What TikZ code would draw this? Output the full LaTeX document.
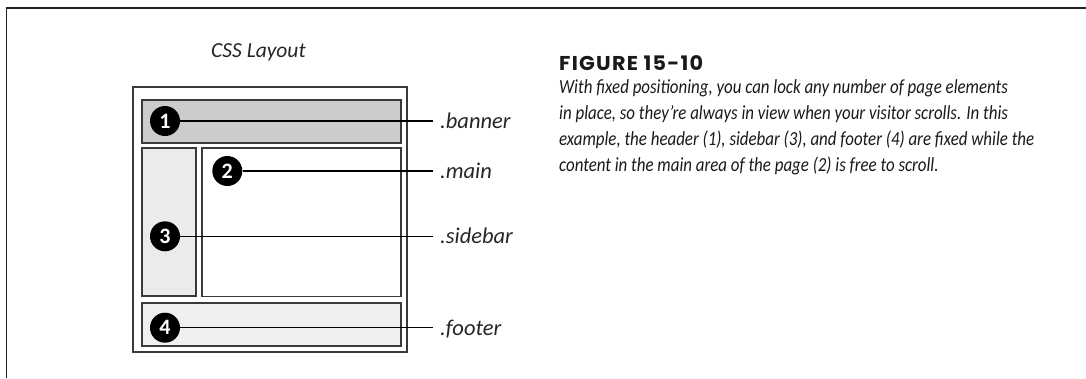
\documentclass[tikz,border=0pt]{standalone}
\usepackage{fontspec}
\setmainfont{Carlito}
\newfontfamily\figfont{Poppins}[LetterSpace=6]
\definecolor{framecol}{HTML}{222222}
\definecolor{boxline}{HTML}{3A3A3A}
\definecolor{bannerfill}{HTML}{CCCCCC}
\definecolor{sidefill}{HTML}{EBEBEB}
\definecolor{footfill}{HTML}{EFEFEF}
\newlength\capw
\newlength\figw
\tikzset{
  frameline/.style={draw=framecol, line width=1.8pt},
  boxrect/.style={draw=boxline, line width=1.6pt},
  numdot/.style={circle, fill=black, inner sep=0pt, minimum size=30pt, text=white, font=\fontsize{22}{22}\selectfont\bfseries},
  leader/.style={draw=black, line width=1.3pt},
  tag/.style={anchor=base west, inner sep=0pt, font=\fontsize{22.5}{26}\selectfont\itshape, text=black!85},
  capline/.style={anchor=base west, inner sep=0pt, text=black!90},
  capfont/.style={font=\fontsize{20}{24}\selectfont\itshape},
}
\begin{document}%
\settowidth\capw{\fontsize{20}{24}\selectfont\itshape example, the header (1), sidebar (3), and footer (4) are fixed while the}%
\pgfmathsetmacro\capscale{475/\capw}%
\settowidth\figw{\figfont\fontsize{20}{20}\selectfont\bfseries FIGURE 15-10}%
\pgfmathsetmacro\figscale{144/\figw}%
\begin{tikzpicture}[x=1pt,y=-1pt]
\useasboundingbox (0,0) rectangle (1086,378);
% page frame
\draw[frameline] (6.5,378) -- (6.5,8.3) -- (1086,8.3);
% title
\node[inner sep=0pt, font=\fontsize{21.5}{24}\selectfont\itshape, text=black!85] (title) at (258.5,52.5) {CSS Layout};
% layout boxes
\draw[boxrect] (132.7,87) rectangle (406.7,352);
\draw[boxrect, fill=bannerfill] (141.7,100) rectangle (400.7,142.7);
\draw[boxrect, fill=sidefill] (141.7,148) rectangle (196,296);
\draw[boxrect, fill=white] (201.7,148) rectangle (400.7,296.5);
\draw[boxrect, fill=footfill] (141.7,303) rectangle (400.7,345.7);
% numbered dots
\node[numdot] (n1) at (165,121) {1};
\node[numdot] (n2) at (227.3,171) {2};
\node[numdot] (n3) at (165,236.3) {3};
\node[numdot] (n4) at (165,327.7) {4};
% leader ends
\coordinate (e1) at (433.3,121);
\coordinate (e2) at (433.3,171);
\coordinate (e3) at (433.3,236.3);
\coordinate (e4) at (433.3,327.7);
\draw[leader] (n1.east) -- (e1);
\draw[leader] (n2.east) -- (e2);
\draw[leader] (n3.east) -- (e3);
\draw[leader] (n4.east) -- (e4);
% labels
\node[tag] (l1) at (440,128.3) {.banner};
\node[tag] (l2) at (440,178.3) {.main};
\node[tag] (l3) at (440,243.6) {.sidebar};
\node[tag] (l4) at (440,335) {.footer};
% caption
\node[capline, font=\figfont\fontsize{20}{20}\selectfont\bfseries] (fig) at (559,70.7) {\scalebox{\figscale}[1]{FIGURE 15-10}};
\node[capline, capfont] (c1) at (559,93.3) {\scalebox{\capscale}[1]{With fixed positioning, you can lock any number of page elements}};
\node[capline, capfont] (c2) at (559,119.3) {\scalebox{\capscale}[1]{in place, so they’re always in view when your visitor scrolls. In this}};
\node[capline, capfont] (c3) at (559,145.3) {\scalebox{\capscale}[1]{example, the header (1), sidebar (3), and footer (4) are fixed while the}};
\node[capline, capfont] (c4) at (559,171.3) {\scalebox{\capscale}[1]{content in the main area of the page (2) is free to scroll.}};
\end{tikzpicture}%
\end{document}
